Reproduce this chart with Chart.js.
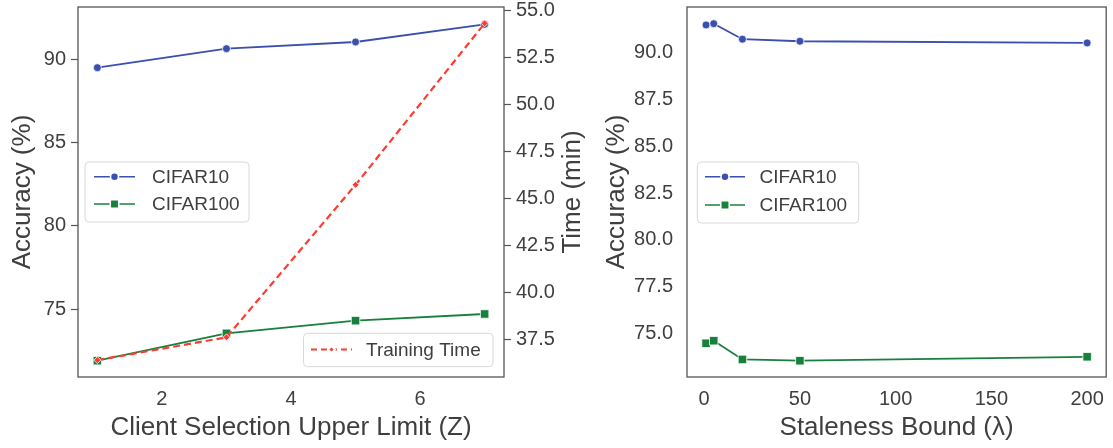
<!DOCTYPE html>
<html>
<head>
<meta charset="utf-8">
<script src="https://cdn.jsdelivr.net/npm/chart.js@4.4.1/dist/chart.umd.min.js"></script>
<style>
  html, body { margin: 0; padding: 0; background: #fff; }
  #page { position: relative; width: 1113px; height: 448px; }
  .panel { position: absolute; top: 0; height: 448px; }
  #left { left: 0; width: 590px; }
  #right { left: 590px; width: 523px; }
</style>
</head>
<body>
<div id="page">
  <div class="panel" id="left"><canvas id="zChart"></canvas></div>
  <div class="panel" id="right"><canvas id="lambdaChart"></canvas></div>
</div>
<script>
// client selection upper limit (Z) sweep
const zValues = [1, 3, 5, 7];
const zCifar10 = [89.48, 90.62, 91.02, 92.08];
const zCifar100 = [71.9, 73.54, 74.3, 74.7];
const zTrainTime = [36.38, 37.59, 45.7, 54.29];

// staleness bound (lambda) sweep
const lambdaValues = [1, 5, 20, 50, 200];
const lambdaCifar10 = [91.48, 91.55, 90.72, 90.61, 90.52];
const lambdaCifar100 = [74.47, 74.61, 73.61, 73.54, 73.75];

// tick labels
const zTicks = [2, 4, 6];
const zAccTicks = [75, 80, 85, 90];
const timeTicks = [37.5, 40, 42.5, 45, 47.5, 50, 52.5, 55];
const lambdaTicks = [0, 50, 100, 150, 200];
const lambdaAccTicks = [75, 77.5, 80, 82.5, 85, 87.5, 90];

const FONT = '"Liberation Sans", Arial, Helvetica, sans-serif';
const TEXT = '#3f3f3f';
const SPINE = '#555555';
const BLUE = '#3a4fae';
const GREEN = '#17803d';
const RED = '#ff3a30';

const tickFont = { family: FONT, size: 20 };

function fixedTicks(values) {
  return scale => { scale.ticks = values.map(v => ({ value: v })); };
}

function points(xs, ys) {
  return xs.map((x, i) => ({ x: x, y: ys[i] }));
}

function xAxis(min, max, values) {
  return {
    type: 'linear', min: min, max: max,
    afterBuildTicks: fixedTicks(values),
    ticks: { font: tickFont, color: TEXT, padding: 10, maxRotation: 0, autoSkip: false,
             callback: v => String(v) },
    grid: { drawOnChartArea: false, drawTicks: false },
    border: { display: false },
    afterFit: s => { s.height = 71; s.paddingLeft = 0; s.paddingRight = 0; }
  };
}

function yAxis(pos, min, max, values, width, digits, marks) {
  return {
    type: 'linear', position: pos, min: min, max: max,
    afterBuildTicks: fixedTicks(values),
    ticks: { font: tickFont, color: TEXT, padding: marks ? 5 : 14, autoSkip: false,
             callback: v => v.toFixed(digits) },
    grid: { drawOnChartArea: false, drawTicks: marks, tickLength: 7,
            tickColor: SPINE, tickWidth: 1.2 },
    border: { display: false },
    afterFit: s => { s.width = width; s.paddingTop = 0; s.paddingBottom = 0; }
  };
}

function lineSet(label, data, color, style, radius, extra) {
  return Object.assign({
    label: label, data: data,
    borderColor: color, backgroundColor: color, borderWidth: 1.8,
    pointStyle: style, pointRadius: radius, pointHoverRadius: radius,
    pointBackgroundColor: color, pointBorderColor: '#ffffff', pointBorderWidth: 0.8,
    tension: 0
  }, extra || {});
}

// frame, axis titles and legend boxes
const panelDecor = {
  id: 'panelDecor',
  beforeDatasetsDraw(chart) {
    const { ctx, chartArea: a } = chart;
    ctx.save();
    ctx.strokeStyle = SPINE;
    ctx.lineWidth = 1.3;
    ctx.strokeRect(a.left, a.top, a.right - a.left, a.bottom - a.top);
    ctx.restore();
  },
  afterDraw(chart, args, opts) {
    const { ctx, chartArea: a } = chart;
    ctx.save();
    ctx.fillStyle = TEXT;
    ctx.font = '26px ' + FONT;
    ctx.textAlign = 'center';
    ctx.textBaseline = 'alphabetic';
    (opts.titles || []).forEach(t => {
      ctx.save();
      ctx.translate(t.x === 'center' ? (a.left + a.right) / 2 : t.x, t.y);
      if (t.rotate) ctx.rotate(t.rotate);
      ctx.fillText(t.text, 0, 0);
      ctx.restore();
    });

    (opts.legends || []).forEach(lg => {
      const b = lg.box;
      ctx.beginPath();
      ctx.roundRect(b.x, b.y, b.w, b.h, 4);
      ctx.fillStyle = 'rgba(255,255,255,0.85)';
      ctx.fill();
      ctx.strokeStyle = '#d8d8d8';
      ctx.lineWidth = 1;
      ctx.stroke();
      lg.items.forEach(it => {
        ctx.save();
        ctx.strokeStyle = it.color;
        ctx.lineWidth = it.width || 1.6;
        ctx.setLineDash(it.dash || []);
        ctx.beginPath();
        ctx.moveTo(lg.x0, it.y);
        ctx.lineTo(lg.x1, it.y);
        ctx.stroke();
        ctx.setLineDash([]);
        ctx.fillStyle = it.color;
        ctx.strokeStyle = '#ffffff';
        Chart.helpers.drawPoint(ctx, { pointStyle: it.style, radius: it.radius, rotation: 0, borderWidth: 0.6 },
          (lg.x0 + lg.x1) / 2, it.y);
        ctx.restore();
        ctx.fillStyle = TEXT;
        ctx.font = '19px ' + FONT;
        ctx.textAlign = 'left';
        ctx.textBaseline = 'middle';
        ctx.fillText(it.label, lg.tx, it.y + 1);
      });
    });
    ctx.restore();
  }
};

const common = {
  responsive: true,
  maintainAspectRatio: false,
  animation: false,
  events: [],
  plugins: { legend: { display: false }, tooltip: { enabled: false } }
};

new Chart(document.getElementById('zChart'), {
  type: 'line',
  data: {
    datasets: [
      lineSet('Training Time', points(zValues, zTrainTime), RED, 'rectRot', 3.5,
              { yAxisID: 'y1', borderDash: [7, 4], borderWidth: 2.2, order: 0 }),
      lineSet('CIFAR10', points(zValues, zCifar10), BLUE, 'circle', 4, { yAxisID: 'y', order: 1 }),
      lineSet('CIFAR100', points(zValues, zCifar100), GREEN, 'rect', 6, { yAxisID: 'y', order: 2 })
    ]
  },
  options: Object.assign({}, common, {
    layout: { padding: { top: 7, left: 0, right: 0, bottom: 0 } },
    scales: {
      x: xAxis(0.7, 7.3, zTicks),
      y: yAxis('left', 70.92, 93.12, zAccTicks, 78, 0, true),
      y1: yAxis('right', 35.48, 55.16, timeTicks, 86, 1, true)
    },
    plugins: Object.assign({}, common.plugins, {
      panelDecor: {
        titles: [
          { text: 'Accuracy (%)', x: 30, y: 192, rotate: -Math.PI / 2 },
          { text: 'Time (min)', x: 580, y: 192, rotate: -Math.PI / 2 },
          { text: 'Client Selection Upper Limit (Z)', x: 'center', y: 435 }
        ],
        legends: [
          { box: { x: 85, y: 162, w: 164, h: 60 }, x0: 94, x1: 135, tx: 152,
            items: [
              { label: 'CIFAR10', y: 176.7, color: BLUE, style: 'circle', radius: 4 },
              { label: 'CIFAR100', y: 204, color: GREEN, style: 'rect', radius: 6 }
            ] },
          { box: { x: 303.5, y: 333.3, w: 189.5, h: 33.4 }, x0: 311, x1: 352, tx: 366,
            items: [
              { label: 'Training Time', y: 349.5, color: RED, style: 'rectRot', radius: 3.5,
                dash: [6, 4], width: 2 }
            ] }
        ]
      }
    })
  }),
  plugins: [panelDecor]
});

new Chart(document.getElementById('lambdaChart'), {
  type: 'line',
  data: {
    datasets: [
      lineSet('CIFAR10', points(lambdaValues, lambdaCifar10), BLUE, 'circle', 4),
      lineSet('CIFAR100', points(lambdaValues, lambdaCifar100), GREEN, 'rect', 6)
    ]
  },
  options: Object.assign({}, common, {
    layout: { padding: { top: 7, left: 0, right: 2, bottom: 0 } },
    scales: {
      x: xAxis(-8.95, 209.95, lambdaTicks),
      y: yAxis('left', 72.67, 92.44, lambdaAccTicks, 97, 1, false)
    },
    plugins: Object.assign({}, common.plugins, {
      panelDecor: {
        titles: [
          { text: 'Accuracy (%)', x: 33.5, y: 192, rotate: -Math.PI / 2 },
          { text: 'Staleness Bound (λ)', x: 'center', y: 435 }
        ],
        legends: [
          { box: { x: 107.3, y: 162, w: 161.4, h: 61 }, x0: 115, x1: 155, tx: 169.5,
            items: [
              { label: 'CIFAR10', y: 176.7, color: BLUE, style: 'circle', radius: 4 },
              { label: 'CIFAR100', y: 205, color: GREEN, style: 'rect', radius: 6 }
            ] }
        ]
      }
    })
  }),
  plugins: [panelDecor]
});
</script>
</body>
</html>
